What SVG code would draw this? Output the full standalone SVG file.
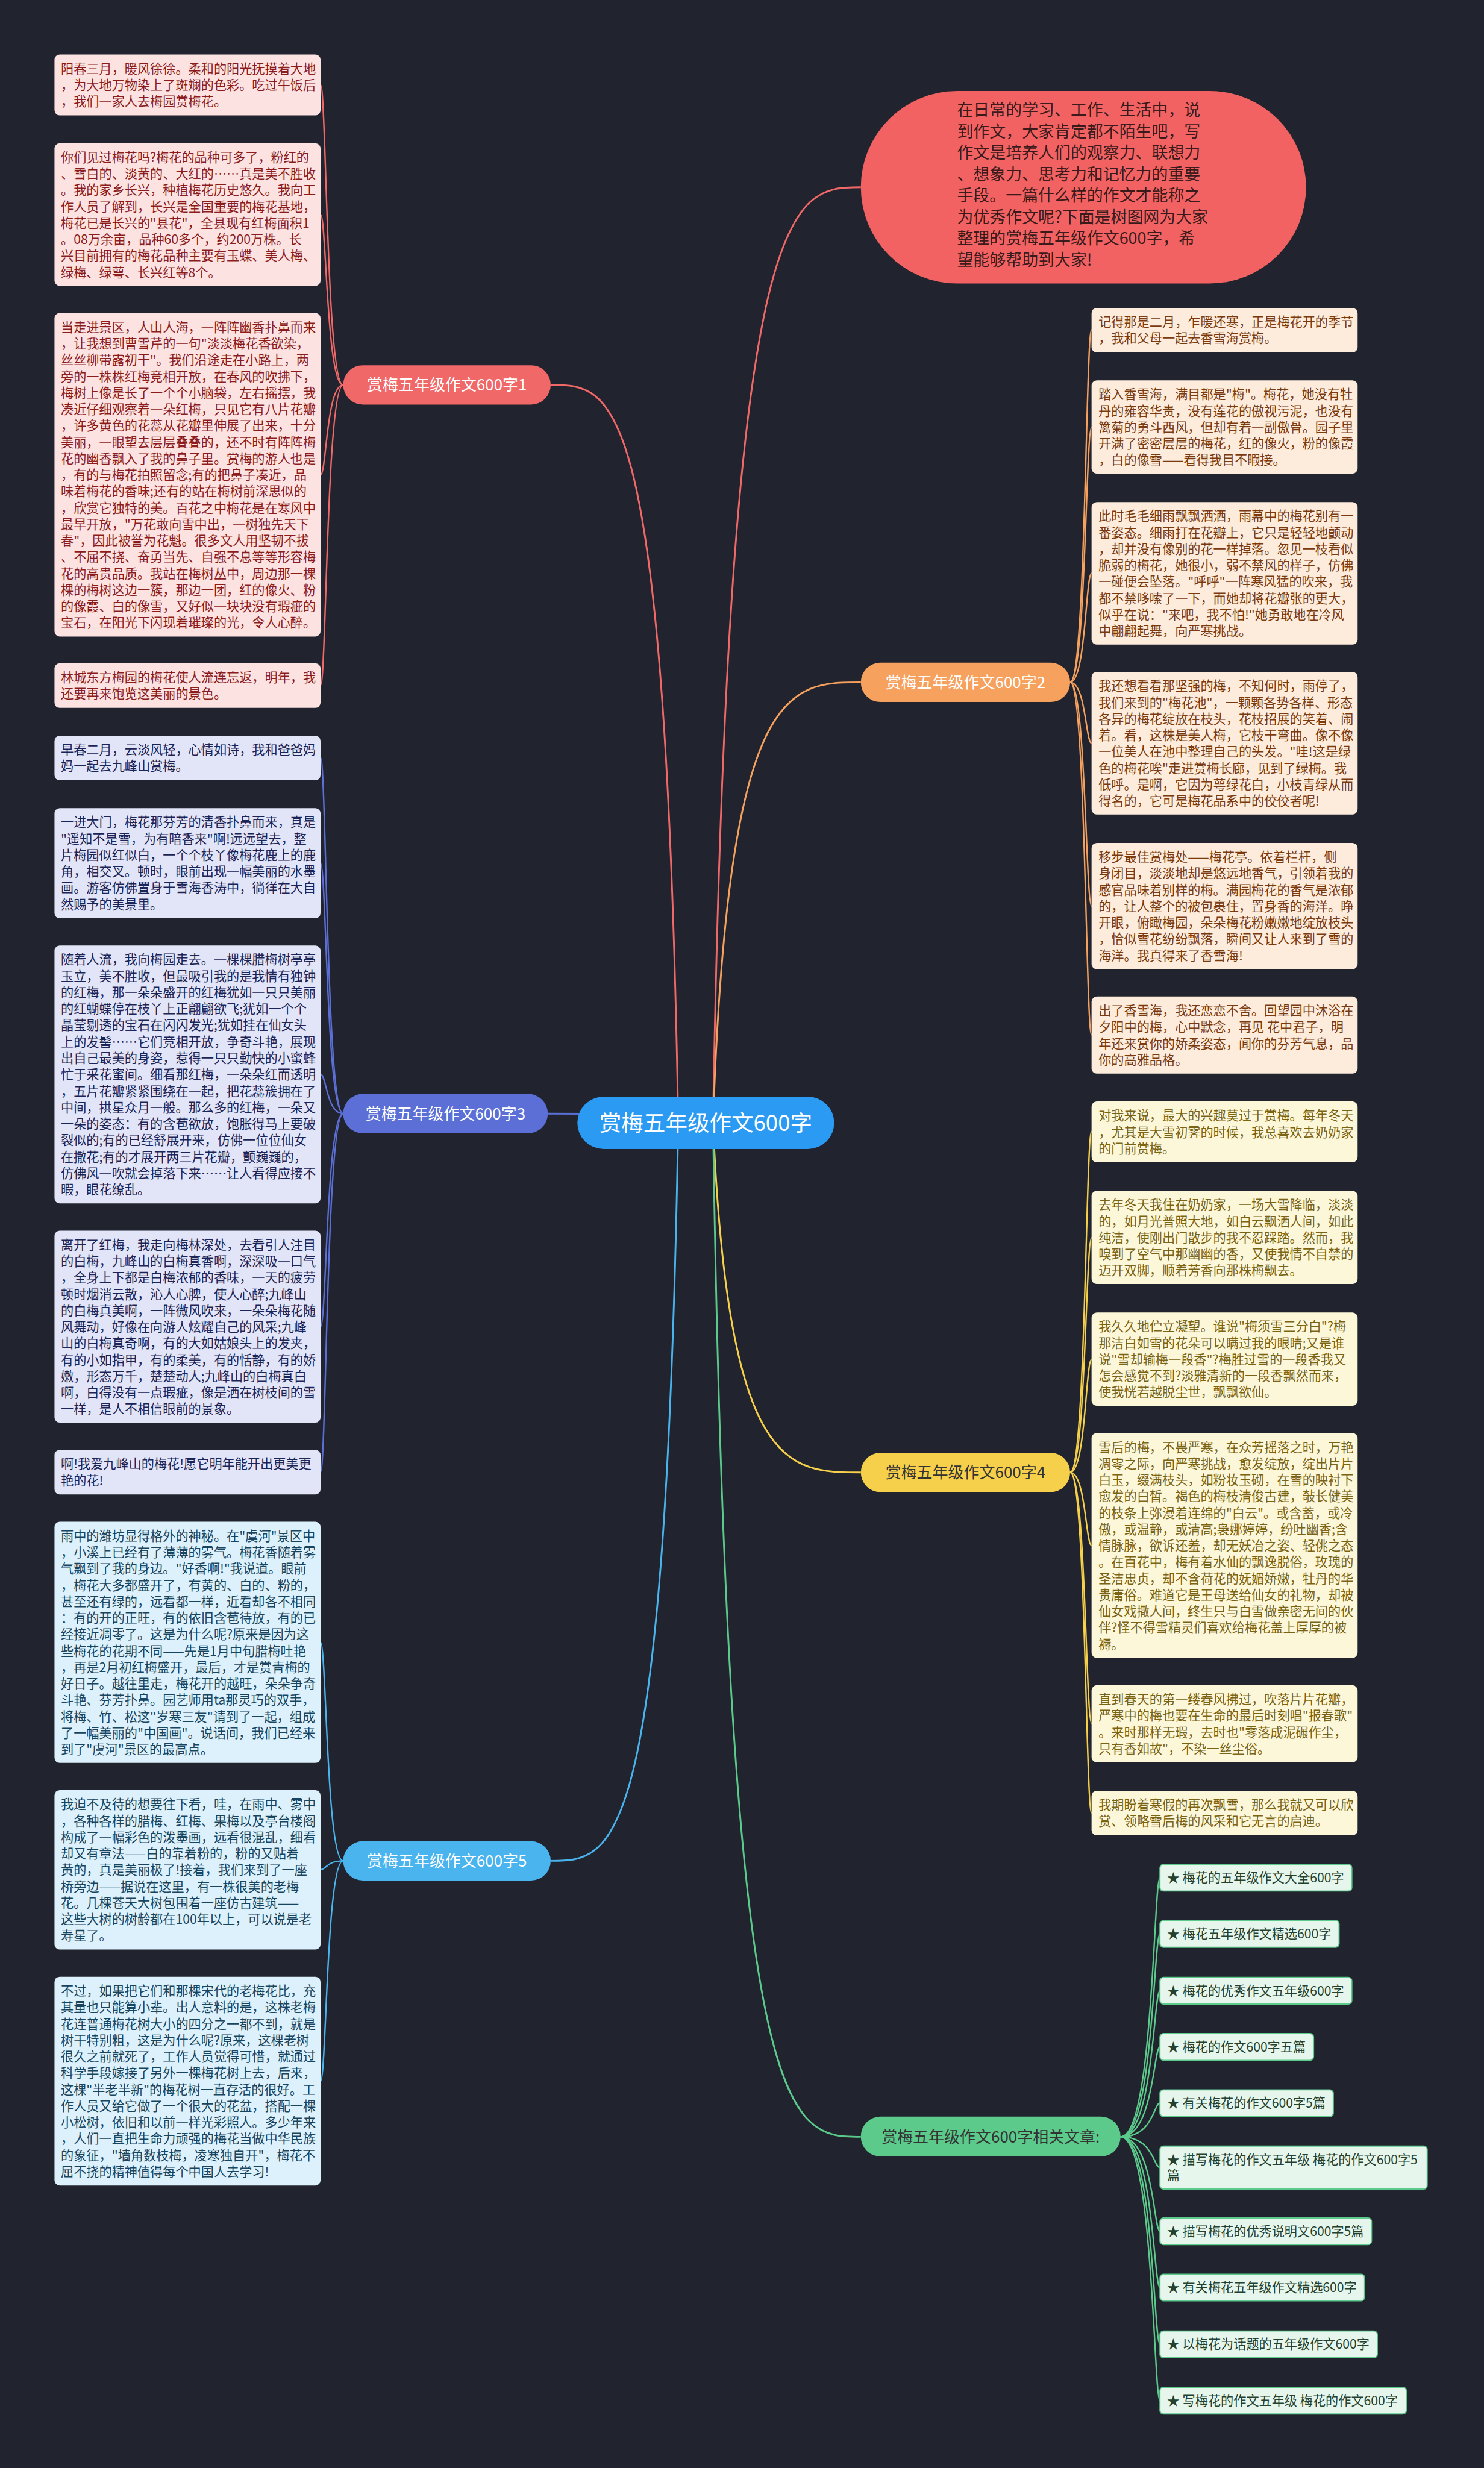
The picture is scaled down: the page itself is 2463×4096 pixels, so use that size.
<svg xmlns="http://www.w3.org/2000/svg" width="2463" height="4096" viewBox="0 0 2463 4096">
<style>
text{font-family:"Noto Sans CJK SC","Noto Sans",sans-serif;}
.lf{font-size:22px;}
.b1 rect{fill:#fde2e2}.b1 text{fill:#8c1c1c}
.b3 rect{fill:#e2e5f7}.b3 text{fill:#1b2456}
.b5 rect{fill:#dcf1fb}.b5 text{fill:#17455f}
.b2 rect{fill:#fdecdc}.b2 text{fill:#7b3a0e}
.b4 rect{fill:#fdf7da}.b4 text{fill:#7a6312}
.br text{font-size:27px;text-anchor:middle;fill:#fff}
.it rect{fill:#e6f6ec;stroke:#5bca8b;stroke-width:2}
.it text{font-size:22px;fill:#24412f}
.cn path{fill:none;stroke-width:3}
.sc path{fill:none;stroke-width:2.5}
</style>
<rect width="2463" height="4096" fill="#21242e"/>
<g transform="scale(0.96211)">
<g id="connectors">
<g class="cn">
<path d="M1230,1937 C1257,323 1364,323 1485,323" stroke="#f06868"/>
<path d="M1230,1937 C1256,1177 1360,1177 1485,1177" stroke="#f7a15e"/>
<path d="M1230,1937 C1256,2540 1360,2540 1485,2540" stroke="#f6d04b"/>
<path d="M1230,1937 C1256,3686 1360,3686 1485,3686" stroke="#5bca8b"/>
<path d="M1170,1937 C1148,664 1060,664 950,664" stroke="#f06868"/>
<path d="M1170,1937 C1148,1921 1060,1921 945,1921" stroke="#5b6fd6"/>
<path d="M1170,1937 C1148,3210 1060,3210 950,3210" stroke="#4ab4ee"/>
</g>
<g class="sc" stroke="#f06868">
<path d="M592,664 C563,664 563,146.5 553,146.5"/>
<path d="M592,664 C563,664 563,370 553,370"/>
<path d="M592,664 C563,664 563,819 553,819"/>
<path d="M592,664 C563,664 563,1182 553,1182"/>
</g>
<g class="sc" stroke="#5b6fd6">
<path d="M592,1921 C563,1921 563,1307 553,1307"/>
<path d="M592,1921 C563,1921 563,1489 553,1489"/>
<path d="M592,1921 C563,1921 563,1853 553,1853"/>
<path d="M592,1921 C563,1921 563,2289 553,2289"/>
<path d="M592,1921 C563,1921 563,2539 553,2539"/>
</g>
<g class="sc" stroke="#4ab4ee">
<path d="M592,3210 C563,3210 563,2833 553,2833"/>
<path d="M592,3210 C563,3210 563,3225 553,3225"/>
<path d="M592,3210 C563,3210 563,3590 553,3590"/>
</g>
<g class="sc" stroke="#f7a15e">
<path d="M1846,1177 C1873,1177 1873,569 1883,569"/>
<path d="M1846,1177 C1873,1177 1873,737 1883,737"/>
<path d="M1846,1177 C1873,1177 1873,989 1883,989"/>
<path d="M1846,1177 C1873,1177 1873,1282 1883,1282"/>
<path d="M1846,1177 C1873,1177 1873,1563 1883,1563"/>
<path d="M1846,1177 C1873,1177 1873,1785 1883,1785"/>
</g>
<g class="sc" stroke="#f6d04b">
<path d="M1846,2540 C1873,2540 1873,1952 1883,1952"/>
<path d="M1846,2540 C1873,2540 1873,2135 1883,2135"/>
<path d="M1846,2540 C1873,2540 1873,2345 1883,2345"/>
<path d="M1846,2540 C1873,2540 1873,2666 1883,2666"/>
<path d="M1846,2540 C1873,2540 1873,2973 1883,2973"/>
<path d="M1846,2540 C1873,2540 1873,3127 1883,3127"/>
</g>
<g class="sc" stroke="#5bca8b">
<path d="M1933,3686 C1990,3686 1990,3239 2001,3239"/>
<path d="M1933,3686 C1990,3686 1990,3336 2001,3336"/>
<path d="M1933,3686 C1990,3686 1990,3434 2001,3434"/>
<path d="M1933,3686 C1990,3686 1990,3531 2001,3531"/>
<path d="M1933,3686 C1990,3686 1990,3628 2001,3628"/>
<path d="M1933,3686 C1990,3686 1990,3739 2001,3739"/>
<path d="M1933,3686 C1990,3686 1990,3849 2001,3849"/>
<path d="M1933,3686 C1990,3686 1990,3946 2001,3946"/>
<path d="M1933,3686 C1990,3686 1990,4044 2001,4044"/>
<path d="M1933,3686 C1990,3686 1990,4141 2001,4141"/>
</g>
</g>

<g id="intro">
<rect x="1485" y="157" width="768" height="332" rx="166" fill="#f26262"/>
<text x="1651" y="200" font-size="28" fill="#3a1a1a"><tspan x="1651">在日常的学习、工作、生活中，说</tspan><tspan x="1651" dy="36.9">到作文，大家肯定都不陌生吧，写</tspan><tspan x="1651" dy="36.9">作文是培养人们的观察力、联想力</tspan><tspan x="1651" dy="36.9">、想象力、思考力和记忆力的重要</tspan><tspan x="1651" dy="36.9">手段。一篇什么样的作文才能称之</tspan><tspan x="1651" dy="36.9">为优秀作文呢?下面是树图网为大家</tspan><tspan x="1651" dy="36.9">整理的赏梅五年级作文600字，希</tspan><tspan x="1651" dy="36.9">望能够帮助到大家!</tspan></text>
</g>

<g id="center">
<rect x="996" y="1892" width="443" height="90" rx="45" fill="#2b9af3"/>
<text x="1217.5" y="1951" font-size="38" text-anchor="middle" fill="#fff">赏梅五年级作文600字</text>
</g>

<g id="branch1" class="br"><rect x="592" y="630" width="358" height="68" rx="34" fill="#f06868"/><text x="771" y="674">赏梅五年级作文600字1</text></g>
<g id="branch2" class="br"><rect x="1485" y="1143" width="361" height="68" rx="34" fill="#f7a15e"/><text x="1665.5" y="1187">赏梅五年级作文600字2</text></g>
<g id="branch3" class="br"><rect x="592" y="1887" width="353" height="68" rx="34" fill="#5b6fd6"/><text x="768.5" y="1931">赏梅五年级作文600字3</text></g>
<g id="branch4" class="br"><rect x="1485" y="2506" width="361" height="68" rx="34" fill="#f6d04b"/><text x="1665.5" y="2550" style="fill:#333">赏梅五年级作文600字4</text></g>
<g id="branch5" class="br"><rect x="592" y="3176" width="358" height="68" rx="34" fill="#4ab4ee"/><text x="771" y="3220">赏梅五年级作文600字5</text></g>
<g id="branch6" class="br"><rect x="1485" y="3651" width="448" height="69" rx="34" fill="#5bca8b"/><text x="1709" y="3696" style="fill:#333">赏梅五年级作文600字相关文章:</text></g>

<g id="L1" class="b1 lf"><rect x="94" y="94" width="459" height="105" rx="9"/><text y="126.5"><tspan x="105">阳春三月，暖风徐徐。柔和的阳光抚摸着大地</tspan><tspan x="105" dy="28.33">，为大地万物染上了斑斓的色彩。吃过午饭后</tspan><tspan x="105" dy="28.33">，我们一家人去梅园赏梅花。</tspan></text></g>

<g id="L2" class="b1 lf"><rect x="94" y="247" width="459" height="246" rx="9"/><text y="279.5"><tspan x="105">你们见过梅花吗?梅花的品种可多了，粉红的</tspan><tspan x="105" dy="28.33">、雪白的、淡黄的、大红的……真是美不胜收</tspan><tspan x="105" dy="28.33">。我的家乡长兴，种植梅花历史悠久。我向工</tspan><tspan x="105" dy="28.33">作人员了解到，长兴是全国重要的梅花基地，</tspan><tspan x="105" dy="28.33">梅花已是长兴的"县花"，全县现有红梅面积1</tspan><tspan x="105" dy="28.33">。08万余亩，品种60多个，约200万株。长</tspan><tspan x="105" dy="28.33">兴目前拥有的梅花品种主要有玉蝶、美人梅、</tspan><tspan x="105" dy="28.33">绿梅、绿萼、长兴红等8个。</tspan></text></g>

<g id="L3" class="b1 lf"><rect x="94" y="540" width="459" height="558" rx="9"/><text y="572.5"><tspan x="105">当走进景区，人山人海，一阵阵幽香扑鼻而来</tspan><tspan x="105" dy="28.33">，让我想到曹雪芹的一句"淡淡梅花香欲染，</tspan><tspan x="105" dy="28.33">丝丝柳带露初干"。我们沿途走在小路上，两</tspan><tspan x="105" dy="28.33">旁的一株株红梅竞相开放，在春风的吹拂下，</tspan><tspan x="105" dy="28.33">梅树上像是长了一个个小脑袋，左右摇摆，我</tspan><tspan x="105" dy="28.33">凑近仔细观察着一朵红梅，只见它有八片花瓣</tspan><tspan x="105" dy="28.33">，许多黄色的花蕊从花瓣里伸展了出来，十分</tspan><tspan x="105" dy="28.33">美丽，一眼望去层层叠叠的，还不时有阵阵梅</tspan><tspan x="105" dy="28.33">花的幽香飘入了我的鼻子里。赏梅的游人也是</tspan><tspan x="105" dy="28.33">，有的与梅花拍照留念;有的把鼻子凑近，品</tspan><tspan x="105" dy="28.33">味着梅花的香味;还有的站在梅树前深思似的</tspan><tspan x="105" dy="28.33">，欣赏它独特的美。百花之中梅花是在寒风中</tspan><tspan x="105" dy="28.33">最早开放，"万花敢向雪中出，一树独先天下</tspan><tspan x="105" dy="28.33">春"，因此被誉为花魁。很多文人用坚韧不拔</tspan><tspan x="105" dy="28.33">、不屈不挠、奋勇当先、自强不息等等形容梅</tspan><tspan x="105" dy="28.33">花的高贵品质。我站在梅树丛中，周边那一棵</tspan><tspan x="105" dy="28.33">棵的梅树这边一簇，那边一团，红的像火、粉</tspan><tspan x="105" dy="28.33">的像霞、白的像雪，又好似一块块没有瑕疵的</tspan><tspan x="105" dy="28.33">宝石，在阳光下闪现着璀璨的光，令人心醉。</tspan></text></g>

<g id="L4" class="b1 lf"><rect x="94" y="1144" width="459" height="77" rx="9"/><text y="1176.5"><tspan x="105">林城东方梅园的梅花使人流连忘返，明年，我</tspan><tspan x="105" dy="28.33">还要再来饱览这美丽的景色。</tspan></text></g>

<g id="L5" class="b3 lf"><rect x="94" y="1269" width="459" height="77" rx="9"/><text y="1301.5"><tspan x="105">早春二月，云淡风轻，心情如诗，我和爸爸妈</tspan><tspan x="105" dy="28.33">妈一起去九峰山赏梅。</tspan></text></g>

<g id="L6" class="b3 lf"><rect x="94" y="1394" width="459" height="190" rx="9"/><text y="1426.5"><tspan x="105">一进大门，梅花那芬芳的清香扑鼻而来，真是</tspan><tspan x="105" dy="28.33">"遥知不是雪，为有暗香来"啊!远远望去，整</tspan><tspan x="105" dy="28.33">片梅园似红似白，一个个枝丫像梅花鹿上的鹿</tspan><tspan x="105" dy="28.33">角，相交叉。顿时，眼前出现一幅美丽的水墨</tspan><tspan x="105" dy="28.33">画。游客仿佛置身于雪海香涛中，徜徉在大自</tspan><tspan x="105" dy="28.33">然赐予的美景里。</tspan></text></g>

<g id="L7" class="b3 lf"><rect x="94" y="1631" width="459" height="445" rx="9"/><text y="1663.5"><tspan x="105">随着人流，我向梅园走去。一棵棵腊梅树亭亭</tspan><tspan x="105" dy="28.33">玉立，美不胜收，但最吸引我的是我情有独钟</tspan><tspan x="105" dy="28.33">的红梅，那一朵朵盛开的红梅犹如一只只美丽</tspan><tspan x="105" dy="28.33">的红蝴蝶停在枝丫上正翩翩欲飞;犹如一个个</tspan><tspan x="105" dy="28.33">晶莹剔透的宝石在闪闪发光;犹如挂在仙女头</tspan><tspan x="105" dy="28.33">上的发髻……它们竞相开放，争奇斗艳，展现</tspan><tspan x="105" dy="28.33">出自己最美的身姿，惹得一只只勤快的小蜜蜂</tspan><tspan x="105" dy="28.33">忙于采花蜜间。细看那红梅，一朵朵红而透明</tspan><tspan x="105" dy="28.33">，五片花瓣紧紧围绕在一起，把花蕊簇拥在了</tspan><tspan x="105" dy="28.33">中间，拱星众月一般。那么多的红梅，一朵又</tspan><tspan x="105" dy="28.33">一朵的姿态：有的含苞欲放，饱胀得马上要破</tspan><tspan x="105" dy="28.33">裂似的;有的已经舒展开来，仿佛一位位仙女</tspan><tspan x="105" dy="28.33">在撒花;有的才展开两三片花瓣，颤巍巍的，</tspan><tspan x="105" dy="28.33">仿佛风一吹就会掉落下来……让人看得应接不</tspan><tspan x="105" dy="28.33">暇，眼花缭乱。</tspan></text></g>

<g id="L8" class="b3 lf"><rect x="94" y="2123" width="459" height="331" rx="9"/><text y="2155.5"><tspan x="105">离开了红梅，我走向梅林深处，去看引人注目</tspan><tspan x="105" dy="28.33">的白梅，九峰山的白梅真香啊，深深吸一口气</tspan><tspan x="105" dy="28.33">，全身上下都是白梅浓郁的香味，一天的疲劳</tspan><tspan x="105" dy="28.33">顿时烟消云散，沁人心脾，使人心醉;九峰山</tspan><tspan x="105" dy="28.33">的白梅真美啊，一阵微风吹来，一朵朵梅花随</tspan><tspan x="105" dy="28.33">风舞动，好像在向游人炫耀自己的风采;九峰</tspan><tspan x="105" dy="28.33">山的白梅真奇啊，有的大如姑娘头上的发夹，</tspan><tspan x="105" dy="28.33">有的小如指甲，有的柔美，有的恬静，有的娇</tspan><tspan x="105" dy="28.33">嫩，形态万千，楚楚动人;九峰山的白梅真白</tspan><tspan x="105" dy="28.33">啊，白得没有一点瑕疵，像是洒在树枝间的雪</tspan><tspan x="105" dy="28.33">一样，是人不相信眼前的景象。</tspan></text></g>

<g id="L9" class="b3 lf"><rect x="94" y="2501" width="459" height="77" rx="9"/><text y="2533.5"><tspan x="105">啊!我爱九峰山的梅花!愿它明年能开出更美更</tspan><tspan x="105" dy="28.33">艳的花!</tspan></text></g>

<g id="L10" class="b5 lf"><rect x="94" y="2625" width="459" height="416" rx="9"/><text y="2657.5"><tspan x="105">雨中的潍坊显得格外的神秘。在"虞河"景区中</tspan><tspan x="105" dy="28.33">，小溪上已经有了薄薄的雾气。梅花香随着雾</tspan><tspan x="105" dy="28.33">气飘到了我的身边。"好香啊!"我说道。眼前</tspan><tspan x="105" dy="28.33">，梅花大多都盛开了，有黄的、白的、粉的，</tspan><tspan x="105" dy="28.33">甚至还有绿的，远看都一样，近看却各不相同</tspan><tspan x="105" dy="28.33">：有的开的正旺，有的依旧含苞待放，有的已</tspan><tspan x="105" dy="28.33">经接近凋零了。这是为什么呢?原来是因为这</tspan><tspan x="105" dy="28.33">些梅花的花期不同——先是1月中旬腊梅吐艳</tspan><tspan x="105" dy="28.33">，再是2月初红梅盛开，最后，才是赏青梅的</tspan><tspan x="105" dy="28.33">好日子。越往里走，梅花开的越旺，朵朵争奇</tspan><tspan x="105" dy="28.33">斗艳、芬芳扑鼻。园艺师用ta那灵巧的双手，</tspan><tspan x="105" dy="28.33">将梅、竹、松这"岁寒三友"请到了一起，组成</tspan><tspan x="105" dy="28.33">了一幅美丽的"中国画"。说话间，我们已经来</tspan><tspan x="105" dy="28.33">到了"虞河"景区的最高点。</tspan></text></g>

<g id="L11" class="b5 lf"><rect x="94" y="3088" width="459" height="275" rx="9"/><text y="3120.5"><tspan x="105">我迫不及待的想要往下看，哇，在雨中、雾中</tspan><tspan x="105" dy="28.33">，各种各样的腊梅、红梅、果梅以及亭台楼阁</tspan><tspan x="105" dy="28.33">构成了一幅彩色的泼墨画，远看很混乱，细看</tspan><tspan x="105" dy="28.33">却又有章法——白的靠着粉的，粉的又贴着</tspan><tspan x="105" dy="28.33">黄的，真是美丽极了!接着，我们来到了一座</tspan><tspan x="105" dy="28.33">桥旁边——据说在这里，有一株很美的老梅</tspan><tspan x="105" dy="28.33">花。几棵苍天大树包围着一座仿古建筑——</tspan><tspan x="105" dy="28.33">这些大树的树龄都在100年以上，可以说是老</tspan><tspan x="105" dy="28.33">寿星了。</tspan></text></g>

<g id="L12" class="b5 lf"><rect x="94" y="3410" width="459" height="360" rx="9"/><text y="3442.5"><tspan x="105">不过，如果把它们和那棵宋代的老梅花比，充</tspan><tspan x="105" dy="28.33">其量也只能算小辈。出人意料的是，这株老梅</tspan><tspan x="105" dy="28.33">花连普通梅花树大小的四分之一都不到，就是</tspan><tspan x="105" dy="28.33">树干特别粗，这是为什么呢?原来，这棵老树</tspan><tspan x="105" dy="28.33">很久之前就死了，工作人员觉得可惜，就通过</tspan><tspan x="105" dy="28.33">科学手段嫁接了另外一棵梅花树上去，后来，</tspan><tspan x="105" dy="28.33">这棵"半老半新"的梅花树一直存活的很好。工</tspan><tspan x="105" dy="28.33">作人员又给它做了一个很大的花盆，搭配一棵</tspan><tspan x="105" dy="28.33">小松树，依旧和以前一样光彩照人。多少年来</tspan><tspan x="105" dy="28.33">，人们一直把生命力顽强的梅花当做中华民族</tspan><tspan x="105" dy="28.33">的象征，"墙角数枝梅，凌寒独自开"，梅花不</tspan><tspan x="105" dy="28.33">屈不挠的精神值得每个中国人去学习!</tspan></text></g>

<g id="R1" class="b2 lf"><rect x="1883" y="531" width="459" height="77" rx="9"/><text y="563.5"><tspan x="1895">记得那是二月，乍暖还寒，正是梅花开的季节</tspan><tspan x="1895" dy="28.33">，我和父母一起去香雪海赏梅。</tspan></text></g>

<g id="R2" class="b2 lf"><rect x="1883" y="656" width="459" height="161" rx="9"/><text y="688.5"><tspan x="1895">踏入香雪海，满目都是"梅"。梅花，她没有牡</tspan><tspan x="1895" dy="28.33">丹的雍容华贵，没有莲花的傲视污泥，也没有</tspan><tspan x="1895" dy="28.33">篱菊的勇斗西风，但却有着一副傲骨。园子里</tspan><tspan x="1895" dy="28.33">开满了密密层层的梅花，红的像火，粉的像霞</tspan><tspan x="1895" dy="28.33">，白的像雪——看得我目不暇接。</tspan></text></g>

<g id="R3" class="b2 lf"><rect x="1883" y="866" width="459" height="246" rx="9"/><text y="898.5"><tspan x="1895">此时毛毛细雨飘飘洒洒，雨幕中的梅花别有一</tspan><tspan x="1895" dy="28.33">番姿态。细雨打在花瓣上，它只是轻轻地颤动</tspan><tspan x="1895" dy="28.33">，却并没有像别的花一样掉落。忽见一枝看似</tspan><tspan x="1895" dy="28.33">脆弱的梅花，她很小，弱不禁风的样子，仿佛</tspan><tspan x="1895" dy="28.33">一碰便会坠落。"呼呼"一阵寒风猛的吹来，我</tspan><tspan x="1895" dy="28.33">都不禁哆嗦了一下，而她却将花瓣张的更大，</tspan><tspan x="1895" dy="28.33">似乎在说："来吧，我不怕!"她勇敢地在冷风</tspan><tspan x="1895" dy="28.33">中翩翩起舞，向严寒挑战。</tspan></text></g>

<g id="R4" class="b2 lf"><rect x="1883" y="1159" width="459" height="246" rx="9"/><text y="1191.5"><tspan x="1895">我还想看看那坚强的梅，不知何时，雨停了，</tspan><tspan x="1895" dy="28.33">我们来到的"梅花池"，一颗颗各势各样、形态</tspan><tspan x="1895" dy="28.33">各异的梅花绽放在枝头，花枝招展的笑着、闹</tspan><tspan x="1895" dy="28.33">着。看，这株是美人梅，它枝干弯曲。像不像</tspan><tspan x="1895" dy="28.33">一位美人在池中整理自己的头发。"哇!这是绿</tspan><tspan x="1895" dy="28.33">色的梅花唉"走进赏梅长廊，见到了绿梅。我</tspan><tspan x="1895" dy="28.33">低呼。是啊，它因为萼绿花白，小枝青绿从而</tspan><tspan x="1895" dy="28.33">得名的，它可是梅花品系中的佼佼者呢!</tspan></text></g>

<g id="R5" class="b2 lf"><rect x="1883" y="1454" width="459" height="218" rx="9"/><text y="1486.5"><tspan x="1895">移步最佳赏梅处——梅花亭。依着栏杆，侧</tspan><tspan x="1895" dy="28.33">身闭目，淡淡地却是悠远地香气，引领着我的</tspan><tspan x="1895" dy="28.33">感官品味着别样的梅。满园梅花的香气是浓郁</tspan><tspan x="1895" dy="28.33">的，让人整个的被包裹住，置身香的海洋。睁</tspan><tspan x="1895" dy="28.33">开眼，俯瞰梅园，朵朵梅花粉嫩嫩地绽放枝头</tspan><tspan x="1895" dy="28.33">，恰似雪花纷纷飘落，瞬间又让人来到了雪的</tspan><tspan x="1895" dy="28.33">海洋。我真得来了香雪海!</tspan></text></g>

<g id="R6" class="b2 lf"><rect x="1883" y="1719" width="459" height="133" rx="9"/><text y="1751.5"><tspan x="1895">出了香雪海，我还恋恋不舍。回望园中沐浴在</tspan><tspan x="1895" dy="28.33">夕阳中的梅，心中默念，再见 花中君子，明</tspan><tspan x="1895" dy="28.33">年还来赏你的娇柔姿态，闻你的芬芳气息，品</tspan><tspan x="1895" dy="28.33">你的高雅品格。</tspan></text></g>

<g id="R7" class="b4 lf"><rect x="1883" y="1900" width="459" height="105" rx="9"/><text y="1932.5"><tspan x="1895">对我来说，最大的兴趣莫过于赏梅。每年冬天</tspan><tspan x="1895" dy="28.33">，尤其是大雪初霁的时候，我总喜欢去奶奶家</tspan><tspan x="1895" dy="28.33">的门前赏梅。</tspan></text></g>

<g id="R8" class="b4 lf"><rect x="1883" y="2054" width="459" height="161" rx="9"/><text y="2086.5"><tspan x="1895">去年冬天我住在奶奶家，一场大雪降临，淡淡</tspan><tspan x="1895" dy="28.33">的，如月光普照大地，如白云飘洒人间，如此</tspan><tspan x="1895" dy="28.33">纯洁，使刚出门散步的我不忍踩踏。然而，我</tspan><tspan x="1895" dy="28.33">嗅到了空气中那幽幽的香，又使我情不自禁的</tspan><tspan x="1895" dy="28.33">迈开双脚，顺着芳香向那株梅飘去。</tspan></text></g>

<g id="R9" class="b4 lf"><rect x="1883" y="2264" width="459" height="161" rx="9"/><text y="2296.5"><tspan x="1895">我久久地伫立凝望。谁说"梅须雪三分白"?梅</tspan><tspan x="1895" dy="28.33">那洁白如雪的花朵可以瞒过我的眼睛;又是谁</tspan><tspan x="1895" dy="28.33">说"雪却输梅一段香"?梅胜过雪的一段香我又</tspan><tspan x="1895" dy="28.33">怎会感觉不到?淡雅清新的一段香飘然而来，</tspan><tspan x="1895" dy="28.33">使我恍若越脱尘世，飘飘欲仙。</tspan></text></g>

<g id="R10" class="b4 lf"><rect x="1883" y="2472" width="459" height="388" rx="9"/><text y="2504.5"><tspan x="1895">雪后的梅，不畏严寒，在众芳摇落之时，万艳</tspan><tspan x="1895" dy="28.33">凋零之际，向严寒挑战，愈发绽放，绽出片片</tspan><tspan x="1895" dy="28.33">白玉，缀满枝头，如粉妆玉砌，在雪的映衬下</tspan><tspan x="1895" dy="28.33">愈发的白皙。褐色的梅枝清俊古建，敧长健美</tspan><tspan x="1895" dy="28.33">的枝条上弥漫着连绵的"白云"。或含蓄，或冷</tspan><tspan x="1895" dy="28.33">傲，或温静，或清高;袅娜婷婷，纷吐幽香;含</tspan><tspan x="1895" dy="28.33">情脉脉，欲诉还羞，却无妖冶之姿、轻佻之态</tspan><tspan x="1895" dy="28.33">。在百花中，梅有着水仙的飘逸脱俗，玫瑰的</tspan><tspan x="1895" dy="28.33">圣洁忠贞，却不含荷花的妩媚娇嫩，牡丹的华</tspan><tspan x="1895" dy="28.33">贵庸俗。难道它是王母送给仙女的礼物，却被</tspan><tspan x="1895" dy="28.33">仙女戏撒人间，终生只与白雪做亲密无间的伙</tspan><tspan x="1895" dy="28.33">伴?怪不得雪精灵们喜欢给梅花盖上厚厚的被</tspan><tspan x="1895" dy="28.33">褥。</tspan></text></g>

<g id="R11" class="b4 lf"><rect x="1883" y="2907" width="459" height="133" rx="9"/><text y="2939.5"><tspan x="1895">直到春天的第一缕春风拂过，吹落片片花瓣，</tspan><tspan x="1895" dy="28.33">严寒中的梅也要在生命的最后时刻唱"报春歌"</tspan><tspan x="1895" dy="28.33">。来时那样无瑕，去时也"零落成泥碾作尘，</tspan><tspan x="1895" dy="28.33">只有香如故"，不染一丝尘俗。</tspan></text></g>

<g id="R12" class="b4 lf"><rect x="1883" y="3089" width="459" height="77" rx="9"/><text y="3121.5"><tspan x="1895">我期盼着寒假的再次飘雪，那么我就又可以欣</tspan><tspan x="1895" dy="28.33">赏、领略雪后梅的风采和它无言的启迪。</tspan></text></g>

<g id="A1" class="it"><rect x="2001" y="3216" width="331" height="46" rx="6"/><text x="2013" y="3247">★ 梅花的五年级作文大全600字</text></g>
<g id="A2" class="it"><rect x="2001" y="3313" width="309" height="46" rx="6"/><text x="2013" y="3344">★ 梅花五年级作文精选600字</text></g>
<g id="A3" class="it"><rect x="2001" y="3411" width="331" height="46" rx="6"/><text x="2013" y="3442">★ 梅花的优秀作文五年级600字</text></g>
<g id="A4" class="it"><rect x="2001" y="3508" width="265" height="46" rx="6"/><text x="2013" y="3539">★ 梅花的作文600字五篇</text></g>
<g id="A5" class="it"><rect x="2001" y="3605" width="299" height="46" rx="6"/><text x="2013" y="3636">★ 有关梅花的作文600字5篇</text></g>
<g id="A6" class="it"><rect x="2001" y="3702" width="461" height="74" rx="6"/><text y="3733"><tspan x="2013">★ 描写梅花的作文五年级 梅花的作文600字5</tspan><tspan x="2013" dy="28">篇</tspan></text></g>
<g id="A7" class="it"><rect x="2001" y="3826" width="365" height="46" rx="6"/><text x="2013" y="3857">★ 描写梅花的优秀说明文600字5篇</text></g>
<g id="A8" class="it"><rect x="2001" y="3923" width="353" height="46" rx="6"/><text x="2013" y="3954">★ 有关梅花五年级作文精选600字</text></g>
<g id="A9" class="it"><rect x="2001" y="4021" width="375" height="46" rx="6"/><text x="2013" y="4052">★ 以梅花为话题的五年级作文600字</text></g>
<g id="A10" class="it"><rect x="2001" y="4118" width="425" height="46" rx="6"/><text x="2013" y="4149">★ 写梅花的作文五年级 梅花的作文600字</text></g>
</g>
</svg>
